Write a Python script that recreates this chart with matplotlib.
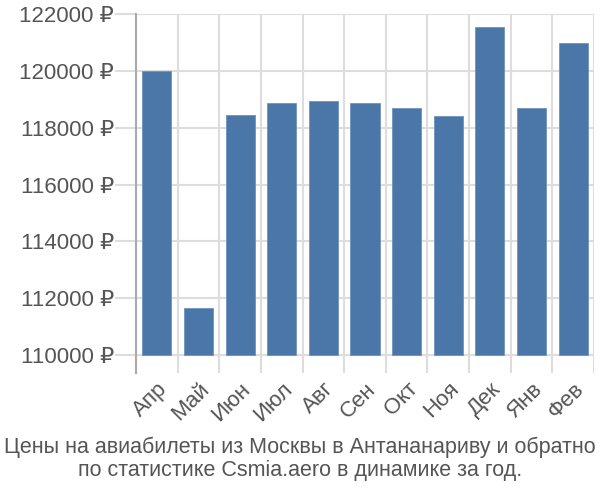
import matplotlib.pyplot as plt

plt.rcParams['font.family'] = ['Liberation Sans', 'DejaVu Sans']

# months and average ticket prices, rubles
months = ['Апр', 'Май', 'Июн', 'Июл', 'Авг', 'Сен', 'Окт', 'Ноя', 'Дек', 'Янв', 'Фев']
prices = [120000, 111640, 118455, 118880, 118940, 118880, 118690, 118400, 121530, 118690, 120980]
yticks = [110000, 112000, 114000, 116000, 118000, 120000, 122000]
base = 110000

fig = plt.figure(figsize=(6, 5), dpi=100)
ax = fig.add_axes([0.2267, 0.254, 0.7633, 0.718])

x = range(len(months))
ax.bar(x, [p - base for p in prices], bottom=base, width=0.7,
       color='#4a77a8', edgecolor='#6d93bd', linewidth=0.6, zorder=3)

ax.set_xlim(-0.5, len(months) - 0.5)
ax.set_ylim(109367, 122000)

# grid lines between bars, ticks extending past the axes
ax.set_xticks(x)
ax.set_xticklabels(months, rotation=45, ha='right', rotation_mode='anchor')
ax.set_xticks([i - 0.5 for i in range(len(months) + 1)], minor=True)
ax.tick_params(axis='x', which='major', length=0, labelsize=16, labelcolor='#555555', pad=4)
ax.tick_params(axis='x', which='minor', length=0)
ax.grid(axis='x', which='minor', color='#dddddd', linewidth=1.5, zorder=0)

ax.set_yticks(yticks)
ax.set_yticklabels([f'{v} ₽' for v in yticks])
ax.tick_params(axis='y', length=15, width=1.5, color='#dddddd', labelsize=16,
               labelcolor='#555555', pad=1)
ax.grid(axis='y', color='#dddddd', linewidth=1.5, zorder=0)

for side in ['top', 'right', 'bottom']:
    ax.spines[side].set_visible(False)
ax.spines['left'].set_color('#aaaaaa')
ax.spines['left'].set_linewidth(1.5)

fig.text(0.5, 0.082, 'Цены на авиабилеты из Москвы в Антананариву и обратно\nпо статистике Csmia.aero в динамике за год.',
         ha='center', va='center', fontsize=15.5, color='#555555', linespacing=1.15)

fig.savefig('out.png')
